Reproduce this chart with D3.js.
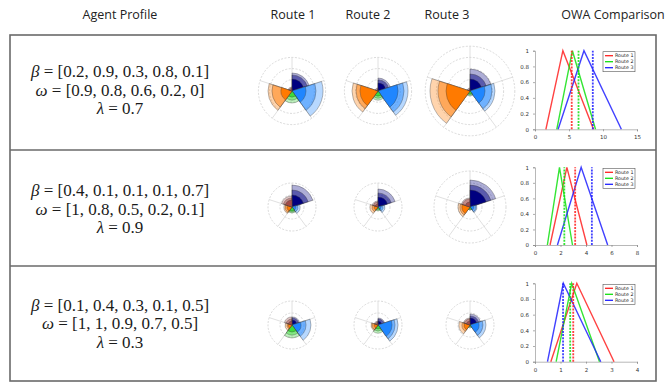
<!DOCTYPE html>
<html><head><meta charset="utf-8">
<script src="https://cdn.jsdelivr.net/npm/d3@7"></script>
<style>body{margin:0;background:#fff}svg{display:block}</style>
</head><body>
<svg id="chart" width="667" height="384"></svg>
<script>
// ---- data ----
const headers = ["Agent Profile", "Route 1", "Route 2", "Route 3", "OWA Comparison"];
const routeNames = ["Route 1", "Route 2", "Route 3"];
const criteria = ["C1", "C2", "C3", "C4", "C5"];
const criterionColors = ["#000080", "#1f86ff", "#3cdc3c", "#ff7a00", "#a24c48"];
const routeColors = ["#ff2020", "#10e010", "#2020ff"];

const betaLabels = ["[0.2, 0.9, 0.3, 0.8, 0.1]", "[0.4, 0.1, 0.1, 0.1, 0.7]", "[0.1, 0.4, 0.3, 0.1, 0.5]"];
const omegaLabels = ["[0.9, 0.8, 0.6, 0.2, 0]", "[1, 0.8, 0.5, 0.2, 0.1]", "[1, 1, 0.9, 0.7, 0.5]"];
const lambdaLabels = ["0.7", "0.9", "0.3"];

// fuzzy criterion scores per route (rows: routes, columns: criteria)
const profile1Lower = [[1.07, 1.25, 0.54, 0.98, 0.18], [0.71, 1.79, 0.45, 1.61, 0.09], [1.07, 1.34, 0.27, 2.14, 0.09]];
const profile1Middle = [[1.43, 2.14, 0.80, 1.79, 0.27], [0.98, 2.32, 0.63, 1.96, 0.18], [1.52, 1.96, 0.36, 2.86, 0.18]];
const profile1Upper = [[1.61, 2.77, 1.07, 2.14, 0.36], [1.16, 2.68, 0.80, 2.32, 0.27], [1.96, 2.23, 0.45, 3.57, 0.27]];

const profile2Lower = [[1.00, 0.33, 0.33, 0.42, 0.58], [0.83, 0.25, 0.17, 0.33, 0.25], [1.42, 0.33, 0.17, 0.67, 0.42]];
const profile2Middle = [[1.42, 0.50, 0.42, 0.58, 0.75], [1.17, 0.42, 0.25, 0.50, 0.42], [1.83, 0.50, 0.25, 0.83, 0.67]];
const profile2Upper = [[1.83, 0.67, 0.50, 0.67, 0.92], [1.50, 0.58, 0.33, 0.67, 0.50], [2.25, 0.58, 0.25, 1.00, 0.75]];

const profile3Lower = [[0.42, 0.75, 0.58, 0.33, 0.33], [0.33, 1.17, 0.33, 0.33, 0.17], [0.58, 0.75, 0.08, 0.50, 0.33]];
const profile3Middle = [[0.58, 1.17, 0.83, 0.42, 0.50], [0.50, 1.42, 0.50, 0.50, 0.25], [0.75, 1.08, 0.17, 0.67, 0.50]];
const profile3Upper = [[0.67, 1.58, 1.08, 0.58, 0.67], [0.58, 1.67, 0.67, 0.58, 0.33], [0.92, 1.33, 0.25, 0.92, 0.58]];

// OWA triangular fuzzy results [left, peak, right] per route, and defuzzified score
const owa1Triangles = [[1.6, 4.1, 8.6], [3.2, 5.5, 8.9], [3.4, 7.2, 12.7]];
const owa1Scores = [5.4, 6.4, 8.5];
const owa1XTicks = [0, 5, 10, 15];

const owa2Triangles = [[1.18, 2.5, 4.07], [0.97, 1.92, 2.94], [1.76, 3.62, 5.7]];
const owa2Scores = [3.15, 2.3, 4.46];
const owa2XTicks = [0, 2, 4, 6, 8];

const owa3Triangles = [[0.62, 1.64, 3.1], [0.83, 1.44, 2.53], [0.49, 1.11, 2.58]];
const owa3Scores = [1.5, 1.38, 1.1];
const owa3XTicks = [0, 1, 2, 3, 4];

const yTicks = [0, 0.2, 0.4, 0.6, 0.8, 1];

// ---- layout ----
const svg = d3.select("#chart");
const tableLeft = 10, tableRight = 656;
const rowEdges = [35, 150, 266, 381];
const textCenters = [90, 209, 323.5];
const headerX = [120, 293, 368, 447, 613];
const polarX = [292, 378, 470];
const polarY = [91, 207, 325];
const ringPx = [11.2, 12, 12];
const owaLeft = 535, owaRight = 637;
const owaTop = [50.7, 167.3, 283.3], owaBottom = [129.3, 245, 361.7];

const profiles = [
  [profile1Lower, profile1Middle, profile1Upper],
  [profile2Lower, profile2Middle, profile2Upper],
  [profile3Lower, profile3Middle, profile3Upper]
];
const owaTriangles = [owa1Triangles, owa2Triangles, owa3Triangles];
const owaScores = [owa1Scores, owa2Scores, owa3Scores];
const owaXTicks = [owa1XTicks, owa2XTicks, owa3XTicks];

// header
svg.selectAll("text.header").data(headers).join("text")
  .attr("class", "header")
  .attr("x", (d, i) => headerX[i]).attr("y", 19)
  .attr("text-anchor", "middle")
  .attr("font-family", "'Open Sans', 'DejaVu Sans', sans-serif")
  .attr("font-size", 12.5).attr("fill", "#222")
  .text(d => d);

// table frame
svg.append("rect")
  .attr("x", tableLeft).attr("y", rowEdges[0])
  .attr("width", tableRight - tableLeft).attr("height", rowEdges[3] - rowEdges[0])
  .attr("fill", "none").attr("stroke", "#6a6a6a").attr("stroke-width", 1.6);
svg.selectAll("line.sep").data(rowEdges.slice(1, 3)).join("line")
  .attr("class", "sep")
  .attr("x1", tableLeft).attr("x2", tableRight)
  .attr("y1", d => d).attr("y2", d => d)
  .attr("stroke", "#6a6a6a").attr("stroke-width", 1.4);

// agent profile text
const mathFont = "'Liberation Serif', 'DejaVu Serif', serif";
[0, 1, 2].forEach(r => {
  const cy = textCenters[r];
  const lines = [["β", betaLabels[r]], ["ω", omegaLabels[r]], ["λ", lambdaLabels[r]]];
  lines.forEach((ln, k) => {
    const t = svg.append("text")
      .attr("x", 120).attr("y", cy - 13 + k * 18.5)
      .attr("text-anchor", "middle")
      .attr("font-family", mathFont).attr("font-size", 17).attr("fill", "#1a1a1a");
    t.append("tspan").attr("font-style", "italic").text(ln[0]);
    t.append("tspan").text(" = " + ln[1]);
  });
});

// polar fuzzy charts
const slice = 2 * Math.PI / criteria.length;
[0, 1, 2].forEach(r => {
  const [lower, middle, upper] = profiles[r];
  const rScale = d3.scaleLinear().domain([0, 1]).range([0, ringPx[r]]);
  routeNames.forEach((name, c) => {
    const g = svg.append("g").attr("transform", `translate(${polarX[c]},${polarY[r]})`);
    const maxV = d3.max(upper[c]);
    const rings = d3.range(1, Math.ceil(maxV) + 1);
    const outer = rScale(rings[rings.length - 1]);
    // grid
    g.selectAll("line.spoke").data(criteria).join("line")
      .attr("x1", 0).attr("y1", 0)
      .attr("x2", (d, i) => outer * Math.sin(i * slice))
      .attr("y2", (d, i) => -outer * Math.cos(i * slice))
      .attr("stroke", "#dcdcdc").attr("stroke-width", 0.9);
    g.selectAll("circle.ring").data(rings).join("circle")
      .attr("r", d => rScale(d)).attr("fill", "none")
      .attr("stroke", "#cfcfcf").attr("stroke-width", 0.8)
      .attr("stroke-dasharray", "2,1.5");
    // wedges: upper (lightest) -> middle -> lower (solid)
    const layers = [upper[c], middle[c], lower[c]];
    criteria.forEach((crit, i) => {
      layers.forEach((vals, k) => {
        const arc = d3.arc().innerRadius(0).outerRadius(rScale(vals[i]))
          .startAngle(i * slice).endAngle((i + 1) * slice);
        g.append("path").attr("d", arc())
          .attr("fill", criterionColors[i])
          .attr("fill-opacity", [0.32, 0.48, 1][k])
          .attr("stroke", "#3a3a3a").attr("stroke-opacity", 0.7)
          .attr("stroke-width", 0.5);
      });
    });
  });
});

// OWA comparison charts
[0, 1, 2].forEach(r => {
  const ticks = owaXTicks[r];
  const x = d3.scaleLinear().domain([ticks[0], ticks[ticks.length - 1]]).range([owaLeft, owaRight]);
  const y = d3.scaleLinear().domain([0, 1]).range([owaBottom[r], owaTop[r]]);
  const g = svg.append("g");
  const xAxis = d3.axisBottom(x).tickValues(ticks).tickSize(2).tickFormat(d3.format("d"));
  const yAxis = d3.axisLeft(y).tickValues(yTicks).tickSize(2).tickFormat(d => d === 0 || d === 1 ? d3.format("d")(d) : d3.format(".1f")(d));
  const gx = g.append("g").attr("transform", `translate(0,${owaBottom[r]})`).call(xAxis);
  const gy = g.append("g").attr("transform", `translate(${owaLeft},0)`).call(yAxis);
  [gx, gy].forEach(a => {
    a.select(".domain").attr("stroke", "#9a9a9a").attr("stroke-width", 0.7);
    a.selectAll(".tick line").attr("stroke", "#777").attr("stroke-width", 0.6);
    a.selectAll(".tick text").attr("font-size", 5.5).attr("fill", "#333")
      .attr("font-family", "'DejaVu Sans', sans-serif");
  });
  gx.selectAll(".tick text").attr("dy", "0.9em");
  gy.selectAll(".tick text").attr("dx", "-0.2em");

  const line = d3.line().x(d => x(d[0])).y(d => y(d[1]));
  owaTriangles[r].forEach((tri, c) => {
    g.append("path")
      .attr("d", line([[tri[0], 0], [tri[1], 1], [tri[2], 0]]))
      .attr("fill", "none").attr("stroke", routeColors[c])
      .attr("stroke-opacity", 0.85).attr("stroke-width", 1.4);
  });
  owaScores[r].forEach((s, c) => {
    g.append("line")
      .attr("x1", x(s)).attr("x2", x(s)).attr("y1", y(0)).attr("y2", y(1))
      .attr("stroke", routeColors[c]).attr("stroke-opacity", 0.85)
      .attr("stroke-width", 1.8).attr("stroke-dasharray", "2,1.2");
  });

  // legend
  const lg = g.append("g").attr("transform", `translate(603,${owaTop[r] + 1})`);
  lg.append("rect").attr("width", 32).attr("height", 20)
    .attr("fill", "#fff").attr("stroke", "#555").attr("stroke-width", 0.6);
  routeNames.forEach((name, c) => {
    lg.append("line").attr("x1", 2).attr("x2", 10)
      .attr("y1", 4 + c * 6).attr("y2", 4 + c * 6)
      .attr("stroke", routeColors[c]).attr("stroke-width", 1.3);
    lg.append("text").attr("x", 12).attr("y", 4 + c * 6).attr("dy", "0.35em")
      .attr("font-size", 4.8).attr("fill", "#222")
      .attr("font-family", "'DejaVu Sans', sans-serif").text(name);
  });
});
</script>
</body></html>
